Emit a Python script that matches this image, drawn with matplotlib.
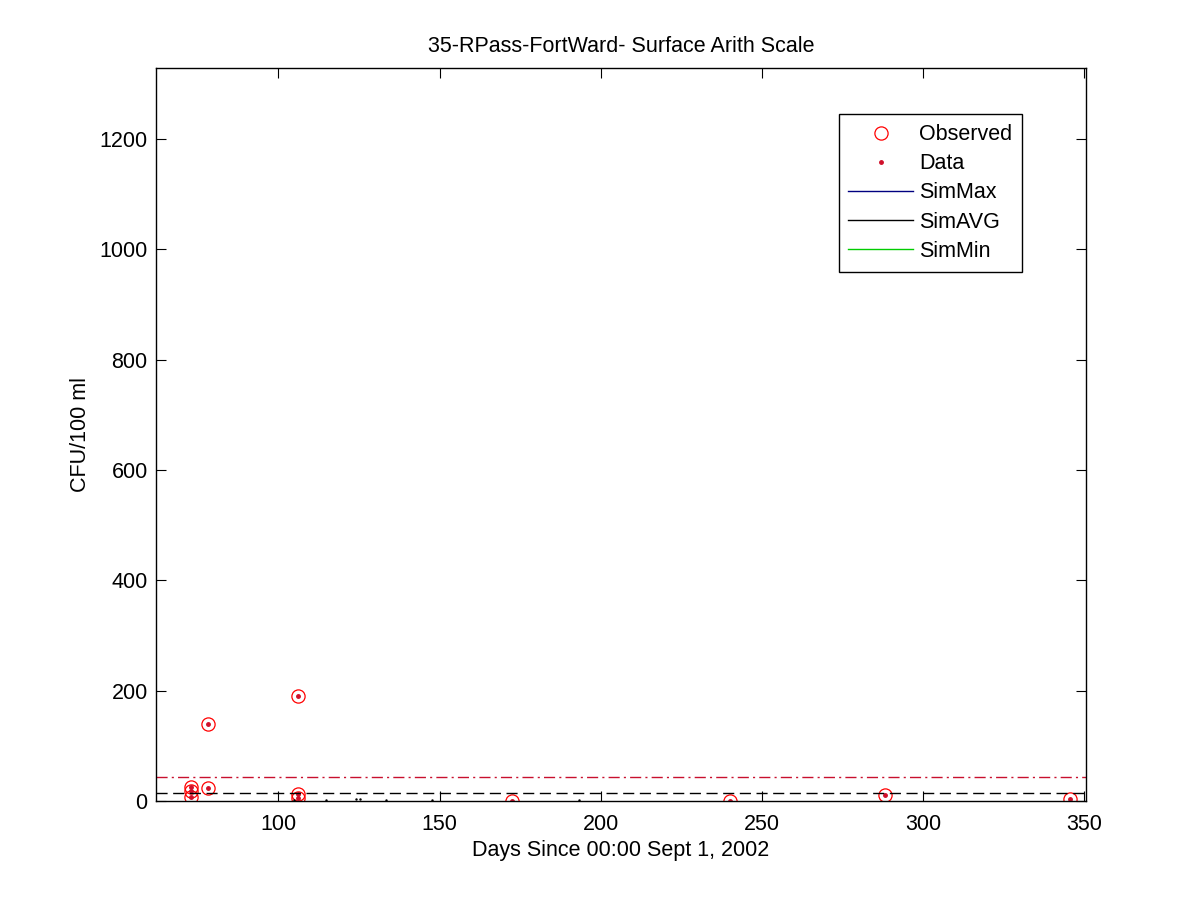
import matplotlib
matplotlib.use("Agg")
import matplotlib.pyplot as plt
from matplotlib.lines import Line2D

plt.rcParams['font.family'] = ['Liberation Sans', 'DejaVu Sans']

# observed samples (days since 00:00 Sept 1, 2002, CFU/100 ml)
obs_days = [73, 73, 73, 78, 78, 106, 106, 106, 172.5, 240, 288, 345.5]
obs_vals = [25, 18, 7, 139, 24, 191, 13, 6, 0, 0, 10, 3]

# simulated values barely above zero
sim_days = [104.8, 114.7, 124, 125.2, 133.3, 147.5, 193.1]
sim_vals = [1.5, 2.5, 3, 3, 2.5, 2.5, 2]

# standards
std_gm = 14
std_90 = 43

fig = plt.figure(figsize=(12, 9), dpi=100)
ax = fig.add_axes([0.13, 0.11, 0.775, 0.815])

ax.plot(obs_days, obs_vals, 'o', mfc='none', mec='red', ms=9.5, mew=0.9)
ax.plot(obs_days, obs_vals, '.', color='#d0102a', ms=5)
ax.plot(sim_days, sim_vals, '.', color='black', ms=1.5)

ax.axhline(std_90, color='#c8102e', ls=(0, (8, 3, 1.5, 3)), lw=1)
ax.axhline(std_gm, color='black', ls=(0, (8, 4)), lw=1)

ax.set_xlim(62, 350.5)
ax.set_ylim(0, 1330)
ax.set_xticks([100, 150, 200, 250, 300, 350])
ax.set_yticks([0, 200, 400, 600, 800, 1000, 1200])
ax.tick_params(direction='in', length=7, top=True, right=True, labelsize=15.5)
ax.tick_params(axis='x', pad=9)
ax.tick_params(axis='y', pad=6)
for s in ax.spines.values():
    s.set_linewidth(1)

ax.set_title("35-RPass-FortWard- Surface Arith Scale", fontsize=15.5, pad=11)
ax.set_xlabel("Days Since 00:00 Sept 1, 2002", fontsize=15.5, labelpad=4)
ax.set_ylabel("CFU/100 ml", fontsize=15.5, labelpad=6)

handles = [
    Line2D([], [], ls='none', marker='o', mfc='none', mec='red', ms=9.5, mew=0.9),
    Line2D([], [], ls='none', marker='.', color='#d0102a', ms=5),
    Line2D([], [], color='#000080', lw=1),
    Line2D([], [], color='black', lw=1),
    Line2D([], [], color='#00cc00', lw=1),
]
labels = ["Observed", "Data", "SimMax", "SimAVG", "SimMin"]
leg = ax.legend(handles, labels, loc='upper left', bbox_to_anchor=(0.734, 0.936),
                fontsize=15.5, frameon=True, fancybox=False, edgecolor='black',
                framealpha=1, handlelength=3.0, handletextpad=0.3,
                labelspacing=0.38, borderpad=0.45, borderaxespad=0)
leg.get_frame().set_linewidth(1)

fig.savefig("out.png", dpi=100)
